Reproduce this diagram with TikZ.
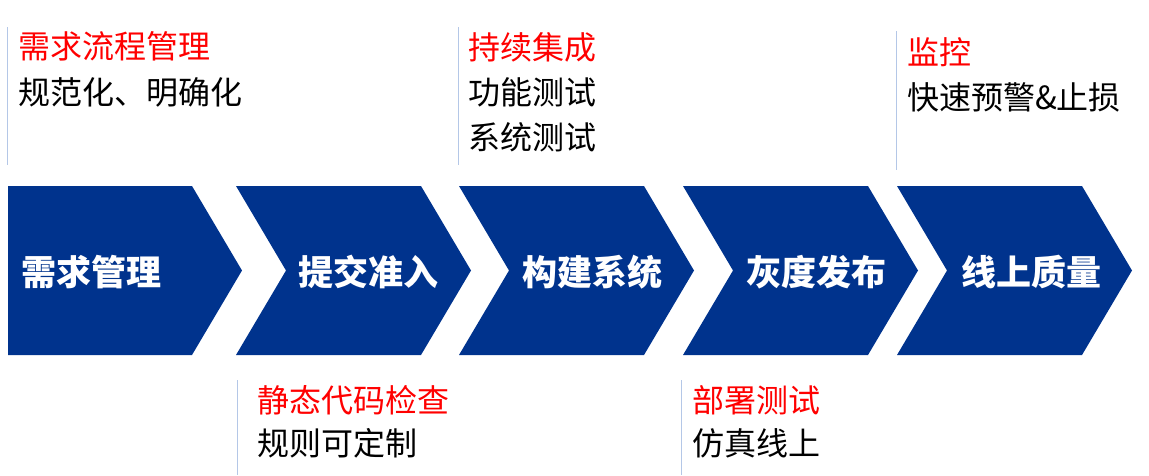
\documentclass[tikz,border=0pt]{standalone}
\usepackage{fontspec}
\usepackage{xcolor}
\usepackage{tikz}
\usetikzlibrary{positioning}
\newfontfamily\cjk{Noto Sans CJK SC}
\definecolor{chevblue}{RGB}{0,51,141}
\definecolor{notered}{RGB}{255,0,0}
\definecolor{ruleblue}{RGB}{180,199,231}

\begin{document}
\begin{tikzpicture}[x=1pt, y=-1pt,
  chev/.style={fill=chevblue, draw=none},
  lbl/.style={text=white, inner sep=0pt, font=\cjk\bfseries\fontsize{35}{40}\selectfont},
  ttl/.style={anchor=west, inner sep=0pt, text=notered, font=\cjk\fontsize{32}{40}\selectfont},
  txt/.style={anchor=west, inner sep=0pt, text=black, font=\cjk\fontsize{32}{40}\selectfont},
  rulemark/.style={draw=ruleblue, line width=1pt}
]
  \useasboundingbox (0,0) rectangle (1149,475);

  %% ── chevrons ──
  \fill[chev] (8,186) -- (192,186) -- (242,270.5) -- (192,355) -- (8,355) -- cycle;
  \foreach \n/\p/\s/\t in {236/286/421/471, 459/509/644/694,
                           683/733/868/918, 897/947/1082/1132}
    \fill[chev] (\n,186) -- (\s,186) -- (\t,270.5) -- (\s,355)
                -- (\n,355) -- (\p,270.5) -- cycle;

  %% ── chevron labels ──
  \node[lbl] (req)   at (91,272)   {需求管理};
  \node[lbl] (gate)  at (368,272)  {提交准入};
  \node[lbl] (build) at (592,272)  {构建系统};
  \node[lbl] (gray)  at (816,272)  {灰度发布};
  \node[lbl] (live)  at (1031,272) {线上质量};

  %% ── notes above ──
  \coordinate (m1a) at (7,27);   \coordinate (m1b) at (7,165);
  \draw[rulemark] (m1a) -- (m1b);
  \node[ttl] (flowT) at (18,46) {需求流程管理};
  \node[txt] (flowA) at (18,92) {规范化、明确化};

  \coordinate (m2a) at (458,27); \coordinate (m2b) at (458,165);
  \draw[rulemark] (m2a) -- (m2b);
  \node[ttl] (ciT) at (468,47)  {持续集成};
  \node[txt] (ciA) at (468,92)  {功能测试};
  \node[txt] (ciB) at (468,137) {系统测试};

  \coordinate (m3a) at (896,31); \coordinate (m3b) at (896,170);
  \draw[rulemark] (m3a) -- (m3b);
  \node[ttl] (monT) at (907,52) {监控};
  \node[txt] (monA) at (907,97) {快速预警\&止损};

  %% ── notes below ──
  \coordinate (m4a) at (237,380); \coordinate (m4b) at (237,475);
  \draw[rulemark] (m4a) -- (m4b);
  \node[ttl] (scaT) at (257,400) {静态代码检查};
  \node[txt] (scaA) at (257,443) {规则可定制};

  \coordinate (m5a) at (681,380); \coordinate (m5b) at (681,475);
  \draw[rulemark] (m5a) -- (m5b);
  \node[ttl] (depT) at (692,400) {部署测试};
  \node[txt] (depA) at (692,443) {仿真线上};
\end{tikzpicture}
\end{document}
